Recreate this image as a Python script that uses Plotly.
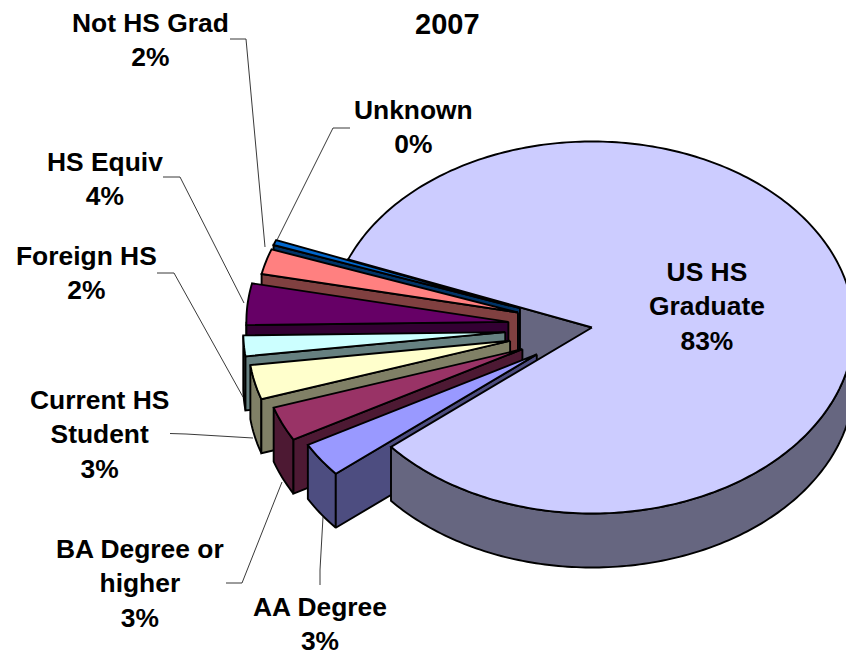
import math
import plotly.graph_objects as go

# --- chart data (percent of total, clockwise in the original order) ---
categories = ["US HS<br>Graduate", "AA Degree", "BA Degree or<br>higher", "Current HS<br>Student",
              "Foreign HS", "HS Equiv", "Not HS Grad", "Unknown"]
values = [82.95, 3.0, 3.0, 3.0, 1.8, 3.6, 2.2, 0.45]
top_colors = ["#CCCCFF", "#9999FF", "#993366", "#FFFFCC", "#CCFFFF", "#660066", "#FF8080", "#0066CC"]
side_colors = ["#666680", "#4D4D80", "#4D1933", "#808066", "#668080", "#330033", "#804040", "#003366"]
explode = [0, 67, 76, 84, 87, 84, 77, 77]
title_text = "2007"

# --- pie geometry ---
CX, CY, RX, RY, DEPTH = 592, 327.5, 262, 186, 54
T_END_MAIN = 219.9          # angle where the main slice starts, going counter-clockwise on screen
EDGE = 1.9
FONT = "Liberation Sans, Arial, sans-serif"
SIZE = 26.4

# centre position of each text block (x, y)
label_pos = [(707, 306), (320, 624), (140, 583), (99, 434), (86, 273), (105, 179), (150, 40), (413, 127)]
leaders = [
    [(320, 585), (320, 570), (323, 517)],
    [(226, 583), (242, 583), (282, 482)],
    [(170, 433.5), (186, 434), (253, 438)],
    [(157, 273), (174, 273), (243, 397)],
    [(163, 177), (180, 177), (244, 303)],
    [(230, 39), (246, 39), (265, 247)],
    [(350, 128), (333, 128), (277, 240)],
]


def rim(cx, cy, t0, t1, dy=0, step=1.0):
    n = max(2, int(abs(t1 - t0) / step) + 1)
    pts = []
    for i in range(n + 1):
        t = math.radians(t0 + (t1 - t0) * i / n)
        pts.append((cx + RX * math.cos(t), cy - RY * math.sin(t) + dy))
    return pts


fig = go.Figure()


def poly(pts, color):
    fig.add_trace(go.Scatter(
        x=[p[0] for p in pts] + [pts[0][0]],
        y=[p[1] for p in pts] + [pts[0][1]],
        mode="lines", fill="toself", fillcolor=color,
        line=dict(color="black", width=EDGE, simplify=False),
        hoverinfo="skip", showlegend=False))


def deg(v):
    return v / sum(values) * 360


def front_wall(cx, cy, t0, t1):
    top = rim(cx, cy, t0, t1)
    return top + rim(cx, cy, t0, t1, DEPTH)[::-1]


# angular spans: main slice ends at T_END_MAIN, the others run backwards towards it
main_start = T_END_MAIN
main_end = main_start + deg(values[0])

# back wall of the main slice, seen through the opening
a = rim(CX, CY, main_end, main_end)[0]
poly([(CX, CY), a, (a[0], a[1] + DEPTH), (CX, CY + DEPTH)], side_colors[0])

# exploded slices, from the back (top of the picture) to the front
spans = []
t = T_END_MAIN
for i in range(1, len(values)):
    spans.append((i, t - deg(values[i]), t))
    t -= deg(values[i])

for i, t0, t1 in reversed(spans):
    mid = math.radians((t0 + t1) / 2)
    cx = CX + explode[i] * math.cos(mid)
    cy = CY - explode[i] * RY / RX * math.sin(mid)
    # rim wall, only where it faces the viewer
    if t1 > 180:
        poly(front_wall(cx, cy, max(t0, 180), t1), side_colors[i])
    # lower cut face
    e = rim(cx, cy, t1, t1)[0]
    poly([(cx, cy), e, (e[0], e[1] + DEPTH), (cx, cy + DEPTH)], side_colors[i])
    # top face
    poly([(cx, cy)] + rim(cx, cy, t0, t1), top_colors[i])

# main slice: outer wall then top face
poly(front_wall(CX, CY, main_start, 360), side_colors[0])
poly([(CX, CY)] + rim(CX, CY, main_start, main_end), top_colors[0])

# leader lines
for pts in leaders:
    fig.add_trace(go.Scatter(x=[p[0] for p in pts], y=[p[1] for p in pts], mode="lines",
                             line=dict(color="#222222", width=0.9), hoverinfo="skip", showlegend=False))

# labels
annotations = []
for name, v, (x, y) in zip(categories, values, label_pos):
    annotations.append(dict(x=x, y=y, xref="x", yref="y", showarrow=False, align="center",
                            text=f"<b>{name}<br>{round(v)}%</b>",
                            font=dict(family=FONT, size=SIZE, color="black")))
annotations.append(dict(x=447, y=24, xref="x", yref="y", showarrow=False,
                        text=f"<b>{title_text}</b>", font=dict(family=FONT, size=29, color="black")))

fig.update_layout(
    width=846, height=656, autosize=False, margin=dict(l=0, r=0, t=0, b=0),
    paper_bgcolor="white", plot_bgcolor="white", showlegend=False,
    xaxis=dict(range=[0, 846], visible=False, fixedrange=True),
    yaxis=dict(range=[656, 0], visible=False, fixedrange=True),
    annotations=annotations,
)
fig.write_html("out.html", config={"displayModeBar": False},
               post_script="document.body.style.margin='0';document.body.style.overflow='hidden';")
